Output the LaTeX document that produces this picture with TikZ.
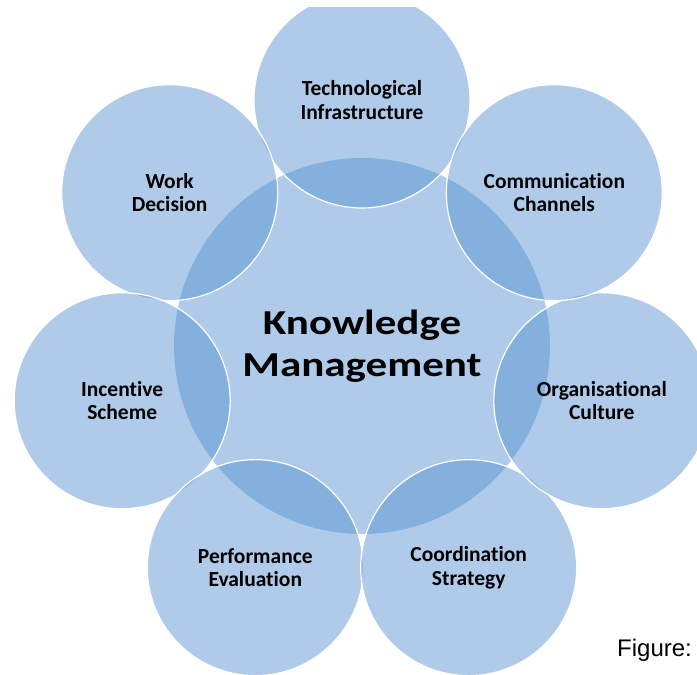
\documentclass[tikz,border=0pt]{standalone}
\usepackage{fontspec}
\setmainfont{Carlito}[Ligatures=NoCommon]
\newfontfamily\kmfont[FakeStretch=1.23, Ligatures=NoCommon]{Carlito}
\newfontfamily\capfont{Liberation Sans}
\usepackage{tikz}
\definecolor{kmblue}{RGB}{87,147,209}

\begin{document}
\begin{tikzpicture}[x=1pt, y=1pt,
			bubble/.style={circle, inner sep=0pt, fill=kmblue, fill opacity=0.48, text opacity=1, align=center},
			hub/.style={bubble, minimum size=376pt, font=\kmfont\bfseries\fontsize{35}{41.5}\selectfont},
			spoke/.style={bubble, minimum size=216pt, draw=white, line width=1.2pt, font=\bfseries\fontsize{21.5}{23.5}\selectfont}]
			
			\useasboundingbox (0,0) rectangle (697,675);
			\begin{scope}
				\clip (0,0) rectangle (697,667);
				\node[hub] (km) at (362,329) {Knowledge\\Management};
				\node[spoke] (tech) at ([shift={(90:246)}]km.center) {Technological\\Infrastructure};
				\node[spoke] (work) at ([shift={(141.43:246)}]km.center) {Work\\Decision};
				\node[spoke] (incent) at ([shift={(192.86:246)}]km.center) {Incentive\\Scheme};
				\node[spoke] (perf) at ([shift={(244.29:246)}]km.center) {Performance\\Evaluation};
				\node[spoke] (coord) at ([shift={(295.71:246)}]km.center) {Coordination\\Strategy};
				\node[spoke] (org) at ([shift={(347.14:246)}]km.center) {Organisational\\Culture};
				\node[spoke] (comm) at ([shift={(38.57:246)}]km.center) {Communication\\Channels};
			\end{scope}
			\node[anchor=base west, inner sep=0pt, font=\capfont\fontsize{24}{28}\selectfont] (fig) at (617,18) {Figure:};
		\end{tikzpicture}
\end{document}
